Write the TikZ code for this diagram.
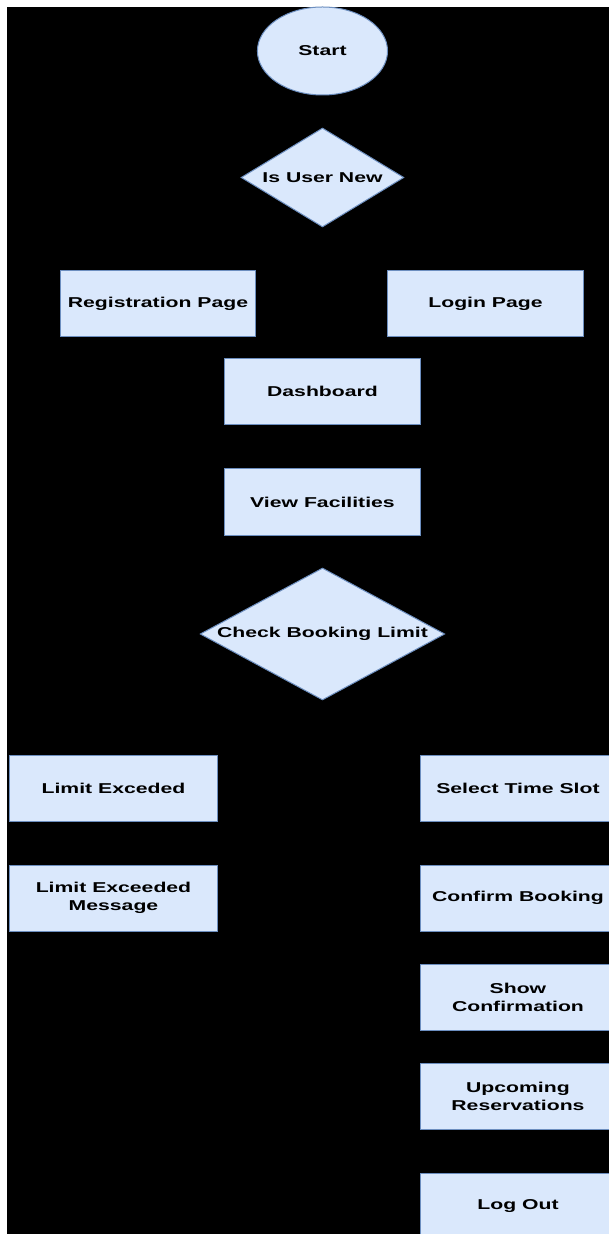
\documentclass[tikz,border=0pt]{standalone}
\usepackage{fontspec}
\setmainfont{Liberation Sans}
\usetikzlibrary{shapes.geometric}
\definecolor{boxfill}{HTML}{DAE8FC}
\definecolor{boxline}{HTML}{6C8EBF}

\begin{document}
\begin{tikzpicture}[x=0.3374pt, y=-0.5pt, xscale=1.4818, transform shape,
    every node/.style={font=\fontsize{7.15}{8.9}\selectfont\bfseries, align=center},
    proc/.style={rectangle, draw=boxline, fill=boxfill, line width=0.5pt,
        minimum width=66.1pt, minimum height=33pt, inner sep=0pt},
    wideproc/.style={proc, minimum width=70.2pt},
    terminal/.style={ellipse, draw=boxline, fill=boxfill, line width=0.5pt,
        minimum width=43.9pt, minimum height=44pt, inner sep=0pt},
    decision/.style={diamond, draw=boxline, fill=boxfill, line width=0.5pt, inner sep=0pt}]

    \useasboundingbox (0,0) rectangle (609,1234);
    \fill[white] (0,0) rectangle (609,1234);
    \fill[black] (7,7) rectangle (609,1234);
    \clip (0,0) rectangle (609,1234);

          \node [terminal] at (322.5,51) (start) {Start};
%
             \node [decision, minimum width=55pt, minimum height=49.5pt] at (322.5,177.5) (usernew) {};
             \node at (usernew) (usernew text) {Is User New};
%
              \node [proc] at (158,304) (register) {Registration Page};
               \node [proc] at (485.5,304) (login) {Login Page};
                \node [proc] at (322.5,391.5) (dashboard) {Dashboard};
                 \node [proc] at (322.5,502) (facilities) {View Facilities};
%
             \node [decision, minimum width=82.6pt, minimum height=66pt] at (322.5,634) (limit) {};
             \node at (limit) (limit text) {Check Booking Limit};
%
                \node [wideproc] at (113.5,788) (exceeded) {Limit Exceded};
                 \node [wideproc] at (113.5,898) (exceeded msg) {Limit Exceeded\\Message};
%
                  \node [proc] at (518,788) (timeslot) {Select Time Slot};
                   \node [proc] at (518,898) (confirm) {Confirm Booking};
                    \node [proc] at (518,997) (confirmation) {Show\\Confirmation};
                     \node [proc] at (518,1096) (upcoming) {Upcoming\\Reservations};
                      \node [proc] at (518,1206.5) (logout) {Log Out};

\end{tikzpicture}
\end{document}
